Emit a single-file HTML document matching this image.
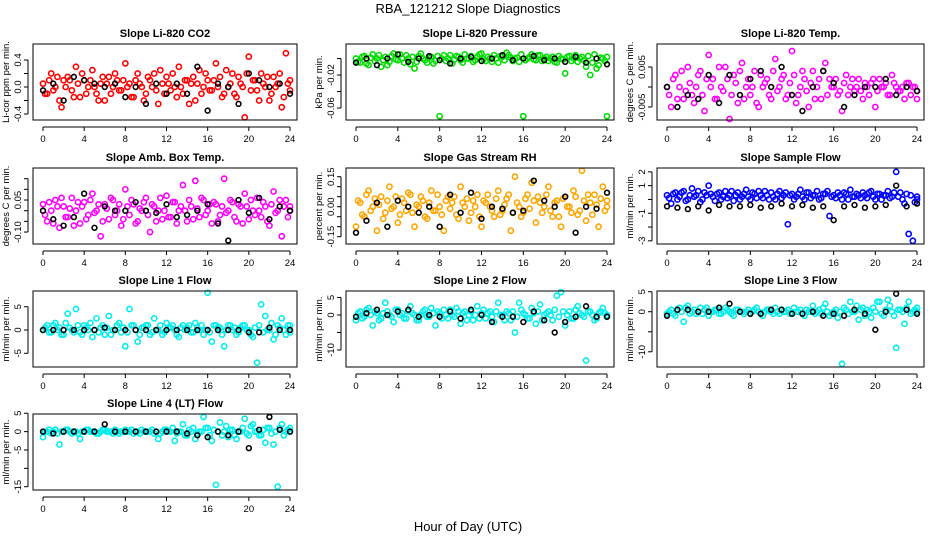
<!DOCTYPE html>
<html><head><meta charset="utf-8">
<style>
html,body{margin:0;padding:0;background:#fff;}
svg{display:block;font-family:"Liberation Sans",sans-serif;}
</style></head>
<body>
<svg id="chart" width="936" height="540" viewBox="0 0 936 540">
<text x="468" y="13" text-anchor="middle" font-size="13">RBA_121212  Slope Diagnostics</text>
<text x="468" y="531" text-anchor="middle" font-size="13">Hour of Day (UTC)</text>
</svg>
<script>
const hoursX = [0,4,8,12,16,20,24];
const co2Vals = [0.05,-0.1,0.2,0.0,-0.2,0.1,0.15,-0.05,0.3,-0.15,0.1,0.0,0.25,-0.1,0.05,-0.2,0.15,0.0,0.1,-0.05,0.35,0.05,-0.15,0.2,0.0,-0.1,0.1,0.2,-0.25,0.05,0.15,-0.05,0.0,0.3,-0.1,0.1,0.05,-0.2,0.25,0.0,0.1,-0.05,0.35,0.15,-0.1,0.0,0.2,-0.15,0.05,-0.45,0.45,0.1,-0.05,0.2,0.0,-0.2,0.15,0.05,-0.3,0.5,0.1];
const co2Vals2 = [-0.1,0.1,-0.05,0.15,-0.3,0.0,0.1,-0.15,0.05,0.2,-0.1,0.1,0.0,-0.2,0.15,0.05,-0.1,0.2,-0.05,0.1,0.0,-0.15,0.1,0.05,-0.2,0.15,0.0,-0.05,0.25,-0.1,0.05,0.2,-0.15,0.0,0.1,-0.25,0.15,0.05,-0.1,0.2,-0.05,0.1,0.0,-0.15,0.25,0.05,-0.1,0.15,0.0,0.2,-0.05,0.1,-0.2,0.05,0.15,-0.1,0.0,0.2,-0.15,0.05,-0.05];
const co2Ref = [-0.05,0.05,-0.2,0.15,0.1,0.05,0.0,0.05,-0.15,0.0,-0.25,0.05,-0.1,0.05,-0.1,0.3,-0.35,0.05,0.0,-0.25,0.2,0.1,0.0,0.05,-0.1];
const presVals = [0.0,-0.005,0.003,-0.008,0.005,0.0,-0.01,0.002,-0.004,0.006,-0.002,0.0,0.004,-0.007,-0.012,0.003,0.0,-0.005,0.002,-0.003,-0.07,0.004,0.0,-0.006,0.003,-0.002,0.005,0.0,-0.004,0.002,0.006,-0.003,0.0,0.004,-0.005,0.002,0.007,0.001,0.0,-0.004,-0.07,0.0,0.005,-0.002,0.004,0.0,-0.003,0.002,-0.005,0.0,-0.018,0.003,0.0,-0.004,0.002,-0.01,-0.02,0.005,-0.008,0.0,-0.07];
const presVals2 = [-0.004,0.002,-0.006,0.001,-0.003,0.004,-0.002,-0.008,0.003,-0.001,0.005,-0.005,0.0,0.002,-0.004,0.006,-0.002,0.001,-0.006,0.003,0.0,-0.003,0.004,-0.001,0.002,-0.005,0.0,0.003,-0.002,0.005,-0.001,0.002,-0.004,0.0,0.003,-0.002,0.004,-0.003,0.001,0.005,-0.002,0.002,-0.001,0.004,-0.003,0.002,0.0,-0.004,0.003,-0.001,0.002,-0.003,0.004,0.0,-0.002,0.003,-0.005,-0.012,0.001,-0.003,0.002];
const presRef = [-0.005,0.0,-0.008,0.0,0.005,-0.004,0.0,0.003,-0.002,-0.006,0.0,0.002,-0.003,0.0,0.004,-0.002,0.0,0.003,-0.002,0.0,-0.004,0.002,-0.005,0.0,-0.007];
const tempVals = [0.0,-0.005,0.003,0.0,-0.003,0.005,-0.002,0.0,0.004,-0.006,0.008,0.002,-0.003,0.0,0.005,-0.008,0.003,-0.004,0.006,0.0,-0.002,0.004,-0.005,0.0,0.002,-0.003,0.007,0.0,0.003,-0.002,0.009,-0.004,0.0,0.002,-0.005,0.004,0.0,-0.003,0.006,0.002,0.0,-0.002,-0.006,0.003,0.0,-0.001,0.002,-0.003,0.0,0.001,-0.005,0.002,0.0,-0.002,0.003,0.0,-0.001,-0.003,0.001,0.0,-0.003];
const tempVals2 = [-0.002,0.002,-0.003,0.004,-0.001,0.001,-0.004,0.003,-0.002,0.002,0.0,-0.003,0.005,-0.001,0.002,-0.002,0.001,0.004,-0.003,0.002,0.0,-0.004,0.003,0.001,-0.002,0.004,-0.001,0.002,-0.003,0.001,0.003,-0.002,0.004,-0.001,0.001,-0.003,0.002,0.004,-0.002,0.0,0.002,-0.001,0.001,-0.002,0.002,0.0,-0.001,0.001,-0.002,0.002,-0.001,0.0,0.001,-0.002,0.001,-0.001,0.0,0.001,-0.002,0.0,-0.001];
const tempRef = [0,-0.005,-0.002,-0.003,0.003,-0.004,0.003,-0.002,0.002,0.004,0.0,0.005,-0.002,-0.006,0.0,0.004,0.001,-0.005,-0.002,0.0,0.0,0.002,-0.002,0.0,-0.001];
const ambVals = [0.03,-0.05,0.0,0.05,-0.08,0.02,-0.03,0.06,0.0,-0.06,0.04,-0.02,0.08,0.0,-0.12,0.03,-0.04,0.05,0.0,-0.07,0.1,-0.02,0.03,-0.05,0.0,0.06,-0.1,0.02,0.0,-0.04,0.07,-0.03,0.04,0.0,0.12,-0.05,0.02,0.14,-0.03,0.05,0.0,-0.06,0.03,-0.02,0.15,0.0,0.04,-0.05,0.02,0.08,-0.04,0.0,0.06,-0.03,0.02,-0.07,0.09,0.0,-0.12,0.05,0.0];
const ambVals2 = [-0.02,0.04,-0.06,0.02,0.06,-0.03,0.01,-0.07,0.04,0.02,-0.04,0.05,-0.01,0.03,-0.05,0.01,0.06,-0.02,0.03,-0.04,0.02,0.05,-0.06,0.01,0.04,-0.02,0.03,-0.05,0.06,0.0,-0.03,0.04,-0.06,0.02,0.0,0.05,-0.04,0.01,0.06,-0.02,0.03,0.04,-0.05,0.02,-0.01,0.05,-0.03,0.03,-0.06,0.02,0.05,-0.02,0.0,0.04,-0.05,0.03,-0.01,0.05,0.02,-0.03,0.02];
const ambRef = [0.0,-0.04,-0.07,-0.03,0.08,-0.08,0.02,0.0,0.0,0.04,0.0,-0.01,0.03,-0.03,-0.02,0.0,0.03,-0.06,-0.14,0.05,-0.01,0.06,-0.04,0.02,0.0];
const rhVals = [-0.1,0.02,-0.05,0.08,0.0,-0.12,0.05,-0.03,0.1,0.0,-0.08,0.04,-0.02,0.06,-0.1,0.0,0.03,-0.06,0.08,-0.02,0.0,-0.12,0.05,0.02,-0.04,0.1,0.0,-0.07,0.03,0.06,-0.1,0.02,0.0,-0.05,0.08,-0.02,0.04,-0.12,0.15,0.0,-0.03,0.06,0.12,-0.08,0.02,0.0,0.1,-0.05,0.03,-0.1,0.05,0.0,0.08,-0.04,0.18,-0.07,0.02,0.06,-0.1,0.1,0.0];
const rhVals2 = [0.03,-0.04,0.06,-0.02,0.04,0.01,-0.06,0.03,-0.01,0.05,-0.04,0.02,0.07,-0.03,0.01,0.05,-0.05,0.02,-0.02,0.06,-0.04,0.03,-0.01,0.05,-0.06,0.02,0.04,-0.03,0.0,-0.05,0.03,0.06,-0.02,0.04,-0.04,0.01,0.06,-0.03,0.02,-0.05,0.04,-0.01,0.03,0.05,-0.03,0.06,-0.02,0.02,-0.05,0.04,0.0,-0.03,0.05,-0.02,0.03,0.06,-0.04,0.01,0.04,-0.02,0.03];
const rhRef = [-0.13,-0.07,0.02,-0.1,0.03,0.0,-0.03,0.0,-0.1,0.06,-0.03,0.07,-0.06,0.0,-0.01,-0.03,-0.02,0.13,0.03,0.0,0.05,-0.13,0.0,-0.01,0.07];
const sampleVals = [0.3,-0.3,0.5,0.2,0.6,0.0,0.8,0.3,-0.2,0.5,1.0,0.2,0.4,0.0,0.6,0.3,-0.1,0.5,0.2,0.7,0.0,0.4,0.6,0.1,0.3,0.5,0.0,0.6,0.3,-1.8,0.4,0.2,0.7,0.0,0.5,0.3,0.6,0.1,0.4,-1.2,0.3,0.5,0.0,0.4,0.7,0.2,0.3,0.5,0.1,0.6,0.0,0.4,0.3,0.6,0.2,2.0,0.5,-0.3,-2.5,-3.0,0.0];
const sampleVals2 = [0.1,0.4,0.0,0.5,-0.1,0.3,0.2,0.6,0.0,0.3,0.4,-0.1,0.5,0.2,0.1,0.6,0.3,0.0,0.4,0.2,0.5,0.1,0.3,0.6,0.0,0.2,0.4,0.1,0.5,0.3,0.0,0.4,0.2,0.5,0.1,0.3,0.0,0.4,0.6,0.2,0.1,0.3,0.5,0.0,0.2,0.4,0.1,0.3,0.5,0.2,0.4,0.0,0.3,0.1,0.5,0.2,0.0,0.4,0.3,-0.2,0.2];
const sampleRef = [-0.5,-0.6,-0.7,-0.5,-0.8,-0.4,-0.5,-0.5,-0.4,-0.6,-0.5,-0.3,-0.5,-0.4,-0.6,-0.5,-1.5,-0.5,-0.4,-0.6,-0.5,-0.4,1.0,-0.5,-0.3];
const line1Vals = [0.0,1.0,-0.5,1.5,0.5,-1.0,3.5,0.0,4.5,-0.5,1.0,0.0,-1.5,2.5,0.5,-1.0,3.0,0.0,1.0,-0.5,-3.5,4.5,1.0,-2.5,0.5,1.0,-1.0,2.5,0.0,-1.0,1.5,0.5,0.0,-1.5,1.0,0.5,-0.5,1.5,0.0,-1.0,8.0,-2.5,1.0,0.5,-3.5,1.0,0.0,-1.0,0.5,1.0,0.0,-1.5,-7.0,5.5,3.0,0.0,-2.0,1.0,2.5,-1.0,1.0];
const line1Vals2 = [0.5,-0.5,1.0,0.0,-1.0,1.5,0.5,-0.5,1.0,-1.0,0.5,1.5,0.0,-0.5,1.0,0.5,-1.0,0.0,1.5,0.5,-0.5,1.0,0.0,-1.0,0.5,1.0,-0.5,0.0,1.0,-0.5,0.5,1.0,-1.0,0.5,0.0,1.0,-0.5,0.5,1.0,0.0,-0.5,1.0,0.5,-1.0,0.0,1.0,0.5,-0.5,1.0,0.0,-1.0,0.5,1.0,-0.5,0.0,1.5,-1.0,0.5,0.0,1.0,-0.5];
const line1Ref = [0,0,0,0,0,0,0.5,0,0,0,0,0,0,0,0,0,0,0,0,0,-0.5,-0.5,0.5,0,0];
const line2Vals = [-1.5,1.0,-0.5,2.0,-3.0,0.5,-1.0,3.5,0.0,-2.0,1.5,0.5,-1.0,2.5,0.0,-1.5,1.0,-0.5,2.0,-3.0,0.5,1.5,-1.0,0.0,2.0,-2.5,1.0,0.0,-1.5,2.5,0.5,-1.0,1.0,-2.0,3.5,0.0,1.0,-1.5,-5.0,3.5,0.5,-1.0,2.0,-2.5,3.0,0.0,1.0,-1.5,5.5,6.5,-3.0,1.0,-1.0,2.5,0.0,-13.0,1.0,-1.5,0.5,2.0,-0.5];
const line2Vals2 = [0.5,-1.0,1.5,0.0,1.0,-1.5,0.5,1.0,-0.5,1.5,0.0,-1.0,1.0,0.5,-1.5,0.0,1.5,-0.5,0.5,1.0,-1.0,0.0,1.5,-0.5,1.0,0.5,-1.5,1.0,0.0,-1.0,1.5,0.5,-0.5,1.0,0.0,-1.5,0.5,1.0,-0.5,1.5,0.0,-1.0,0.5,1.0,-1.5,0.5,0.0,1.5,-0.5,1.0,0.0,-1.0,1.5,0.5,-0.5,1.0,0.0,-1.0,1.0,0.5,0.0];
const line2Ref = [-0.5,0.5,1.5,0.0,1.0,1.5,-0.5,0.0,-0.5,1.0,-1.0,1.5,0.0,-2.0,-0.5,-0.5,-2.0,1.0,-1.5,-5.0,-2.0,-0.5,2.5,-0.5,-0.5];
const line3Vals = [-0.5,0.5,-1.0,1.0,-2.5,1.5,0.0,-0.5,1.0,0.5,-1.0,0.0,0.5,-0.5,1.0,0.0,-1.0,0.5,0.0,0.0,-0.5,0.5,0.0,-1.0,0.5,0.0,1.0,-0.5,0.0,0.5,-0.5,0.0,0.5,-1.0,0.0,1.5,0.0,-0.5,2.0,-1.0,0.0,-1.5,-13.0,0.5,2.5,0.0,-2.0,1.0,0.5,-1.5,0.0,2.5,-1.0,3.0,0.0,-9.0,0.5,-3.0,2.5,0.0,1.0];
const line3Vals2 = [0.0,-0.5,0.5,0.0,1.0,-0.5,0.5,0.0,-0.5,1.0,0.0,0.5,-0.5,0.0,0.5,-0.5,0.5,0.0,-0.5,0.5,0.0,1.0,-0.5,0.0,0.5,-0.5,0.0,0.5,0.0,-0.5,1.0,0.0,-0.5,0.5,0.0,-0.5,0.5,1.0,0.0,-0.5,0.5,0.0,1.0,-0.5,0.0,1.5,0.5,-1.0,0.0,1.0,2.5,-0.5,0.5,1.5,-1.0,0.5,0.0,1.0,-0.5,0.5,0.0];
const line3Ref = [-1.0,0.5,0.5,0.0,0.0,1.0,2.0,0.0,-0.5,-0.5,0.5,0.5,-0.5,-0.5,0.0,-1.0,-0.5,-1.0,0.5,-0.5,-4.5,0.0,4.5,0.5,-0.5];
const line4Vals = [-1.5,0.0,-0.5,0.5,-3.5,0.0,0.5,-0.5,0.0,-2.0,0.0,0.5,0.0,-0.5,0.0,0.5,0.0,-0.5,0.0,0.0,0.5,0.0,-0.5,0.0,0.5,0.0,0.0,-0.5,-2.0,0.0,0.5,0.0,-2.5,0.0,2.0,-1.0,0.0,-2.0,0.0,4.0,1.0,-2.5,-14.5,2.5,0.0,-1.5,0.5,-2.0,0.0,3.5,-1.0,2.0,0.0,-1.0,-3.0,1.0,-3.5,-15.0,2.0,0.0,1.0];
const line4Vals2 = [0.0,0.5,0.0,-0.5,0.0,0.5,0.0,0.0,-0.5,0.0,0.5,0.0,0.0,-0.5,0.5,0.0,0.0,0.5,-0.5,0.0,0.0,0.5,0.0,-0.5,0.0,0.0,0.5,0.0,-0.5,0.5,0.0,1.0,-0.5,0.0,-1.0,0.5,1.0,-0.5,0.0,1.0,-1.0,0.5,0.0,-1.0,1.5,0.5,-1.0,0.0,1.0,-0.5,1.5,0.0,-1.0,0.5,1.0,-0.5,0.0,1.0,-1.0,0.5,0.0];
const line4Ref = [0,-0.5,0,0,0,0,2.0,0,0,0,0,0,0,0,-0.5,-1.0,-1.5,0,-1.0,0,-4.5,0.5,4.0,0.5,0];

const panels = [
 {name:"co2",title:"Slope Li-820 CO2",ylab:"Li-cor ppm per min.",col:0,row:0,lo:-0.489,hi:0.637,vals:co2Vals,vals2:co2Vals2,ref:co2Ref,color:"#ff0000",ticks:[-0.4,-0.2,0,0.2,0.4],labels:["-0.4","","0.0","","0.4"]},
 {name:"pressure",title:"Slope Li-820 Pressure",ylab:"kPa per min.",col:1,row:0,lo:-0.0745,hi:0.0176,vals:presVals,vals2:presVals2,ref:presRef,color:"#00dd00",ticks:[-0.06,-0.04,-0.02,0],labels:["-0.06","","-0.02",""]},
 {name:"li820-temp",title:"Slope Li-820 Temp.",ylab:"degrees C per min.",col:2,row:0,lo:-0.00825,hi:0.01075,vals:tempVals,vals2:tempVals2,ref:tempRef,color:"#ff00ff",ticks:[-0.005,0,0.005],labels:["-0.005","","0.005"]},
 {name:"amb-box-temp",title:"Slope Amb. Box Temp.",ylab:"degrees C per min.",col:0,row:1,lo:-0.156,hi:0.2,vals:ambVals,vals2:ambVals2,ref:ambRef,color:"#ff00ff",ticks:[-0.1,-0.05,0,0.05,0.1,0.15],labels:["-0.10","","","0.05","",""]},
 {name:"gas-stream-rh",title:"Slope Gas Stream RH",ylab:"percent per min.",col:1,row:1,lo:-0.1865,hi:0.1935,vals:rhVals,vals2:rhVals2,ref:rhRef,color:"#ffa500",ticks:[-0.15,-0.1,-0.05,0,0.05,0.1,0.15],labels:["-0.15","","","0.00","","","0.15"]},
 {name:"sample-flow",title:"Slope Sample Flow",ylab:"ml/min per min.",col:2,row:1,lo:-3.23,hi:2.28,vals:sampleVals,vals2:sampleVals2,ref:sampleRef,color:"#0000ff",ticks:[-3,-2,-1,0,1,2],labels:["-3","","-1","","1","2"]},
 {name:"line1-flow",title:"Slope Line 1 Flow",ylab:"ml/min per min.",col:0,row:2,lo:-7.94,hi:8.37,vals:line1Vals,vals2:line1Vals2,ref:line1Ref,color:"#00eeee",ticks:[-5,0,5],labels:["-5","0","5"]},
 {name:"line2-flow",title:"Slope Line 2 Flow",ylab:"ml/min per min.",col:1,row:2,lo:-14.86,hi:6.86,vals:line2Vals,vals2:line2Vals2,ref:line2Ref,color:"#00eeee",ticks:[-10,-5,0,5],labels:["-10","","0","5"]},
 {name:"line3-flow",title:"Slope Line 3 Flow",ylab:"ml/min per min.",col:2,row:2,lo:-13.8,hi:5.18,vals:line3Vals,vals2:line3Vals2,ref:line3Ref,color:"#00eeee",ticks:[-10,-5,0,5],labels:["-10","","0","5"]},
 {name:"line4-flow",title:"Slope Line 4 (LT) Flow",ylab:"ml/min per min.",col:0,row:3,lo:-15.9,hi:4.8,vals:line4Vals,vals2:line4Vals2,ref:line4Ref,color:"#00eeee",ticks:[-15,-10,-5,0,5],labels:["-15","","-5","0","5"]}
];
const colBox = [[33,297],[346,614],[657,924]];
const rowTop = [44,168,291,414];
const boxH = 76;
const NS = "http://www.w3.org/2000/svg";
const svg = document.getElementById("chart");
function mk(tag, attrs, parent){
  const e = document.createElementNS(NS, tag);
  for (const k in attrs) e.setAttribute(k, attrs[k]);
  (parent||svg).appendChild(e);
  return e;
}
panels.forEach(p => {
  const L = colBox[p.col][0], R = colBox[p.col][1], T = rowTop[p.row], B = T + boxH;
  const x0 = L + 10, x1 = R - 7;
  const xs = h => x0 + (h / 24) * (x1 - x0);
  const ys = v => B - (v - p.lo) / (p.hi - p.lo) * boxH;
  const g = mk("g", {});
  
  
  const t = mk("text", {x:(L+R)/2, y:T-7, "text-anchor":"middle", "font-size":"11", "font-weight":"bold"}, g);
  t.textContent = p.title;
  
  
  const yl = mk("text", {transform:`translate(${L-24},${(T+B)/2}) rotate(-90)`, "text-anchor":"middle", "font-size":"9.5"}, g);
  yl.textContent = p.ylab;
  
  
  const n = p.vals.length;
  p.vals.forEach((v, i) => {
    const c = mk("circle", {cx: xs(i * 24 / (n - 1)), cy: ys(v), r: 2.6, fill: "none", stroke: p.color, "stroke-width": 1.6}, g);
    
    
  });
  const n2 = p.vals2.length;
  p.vals2.forEach((v, i) => {
    const h = Math.min(24, i * 24 / (n2 - 1) + 0.2);
    const c = mk("circle", {cx: xs(h), cy: ys(v), r: 2.6, fill: "none", stroke: p.color, "stroke-width": 1.6}, g);
    
    
  });
  const m = p.ref.length;
  p.ref.forEach((v, i) => {
    const c = mk("circle", {cx: xs(i * 24 / (m - 1)), cy: ys(v), r: 2.4, fill: "none", stroke: "#000", "stroke-width": 1.6}, g);
    
    
  });
  const box = mk("rect", {x:L, y:T, width:R-L, height:boxH, fill:"none", stroke:"#000", "stroke-width":1}, g);
  
  
  const ay = B + 7;
  mk("line", {x1:xs(0), x2:xs(24), y1:ay, y2:ay, stroke:"#000"}, g);
  hoursX.forEach(h => {
    mk("line", {x1:xs(h), x2:xs(h), y1:ay, y2:ay+4, stroke:"#000"}, g);
    const tl = mk("text", {x:xs(h), y:ay+15, "text-anchor":"middle", "font-size":"9.5"}, g);
    tl.textContent = h;
    
    
  });
  const ax = L - 5;
  mk("line", {x1:ax, x2:ax, y1:ys(p.ticks[0]), y2:ys(p.ticks[p.ticks.length-1]), stroke:"#000"}, g);
  p.ticks.forEach((tv, i) => {
    mk("line", {x1:ax-4, x2:ax, y1:ys(tv), y2:ys(tv), stroke:"#000"}, g);
    if (p.labels[i]) {
      const tl = mk("text", {transform:`translate(${ax-7},${ys(tv)}) rotate(-90)`, "text-anchor":"middle", "font-size":"9.5"}, g);
      tl.textContent = p.labels[i];
      
      
    }
  });
});
</script>
</body></html>
